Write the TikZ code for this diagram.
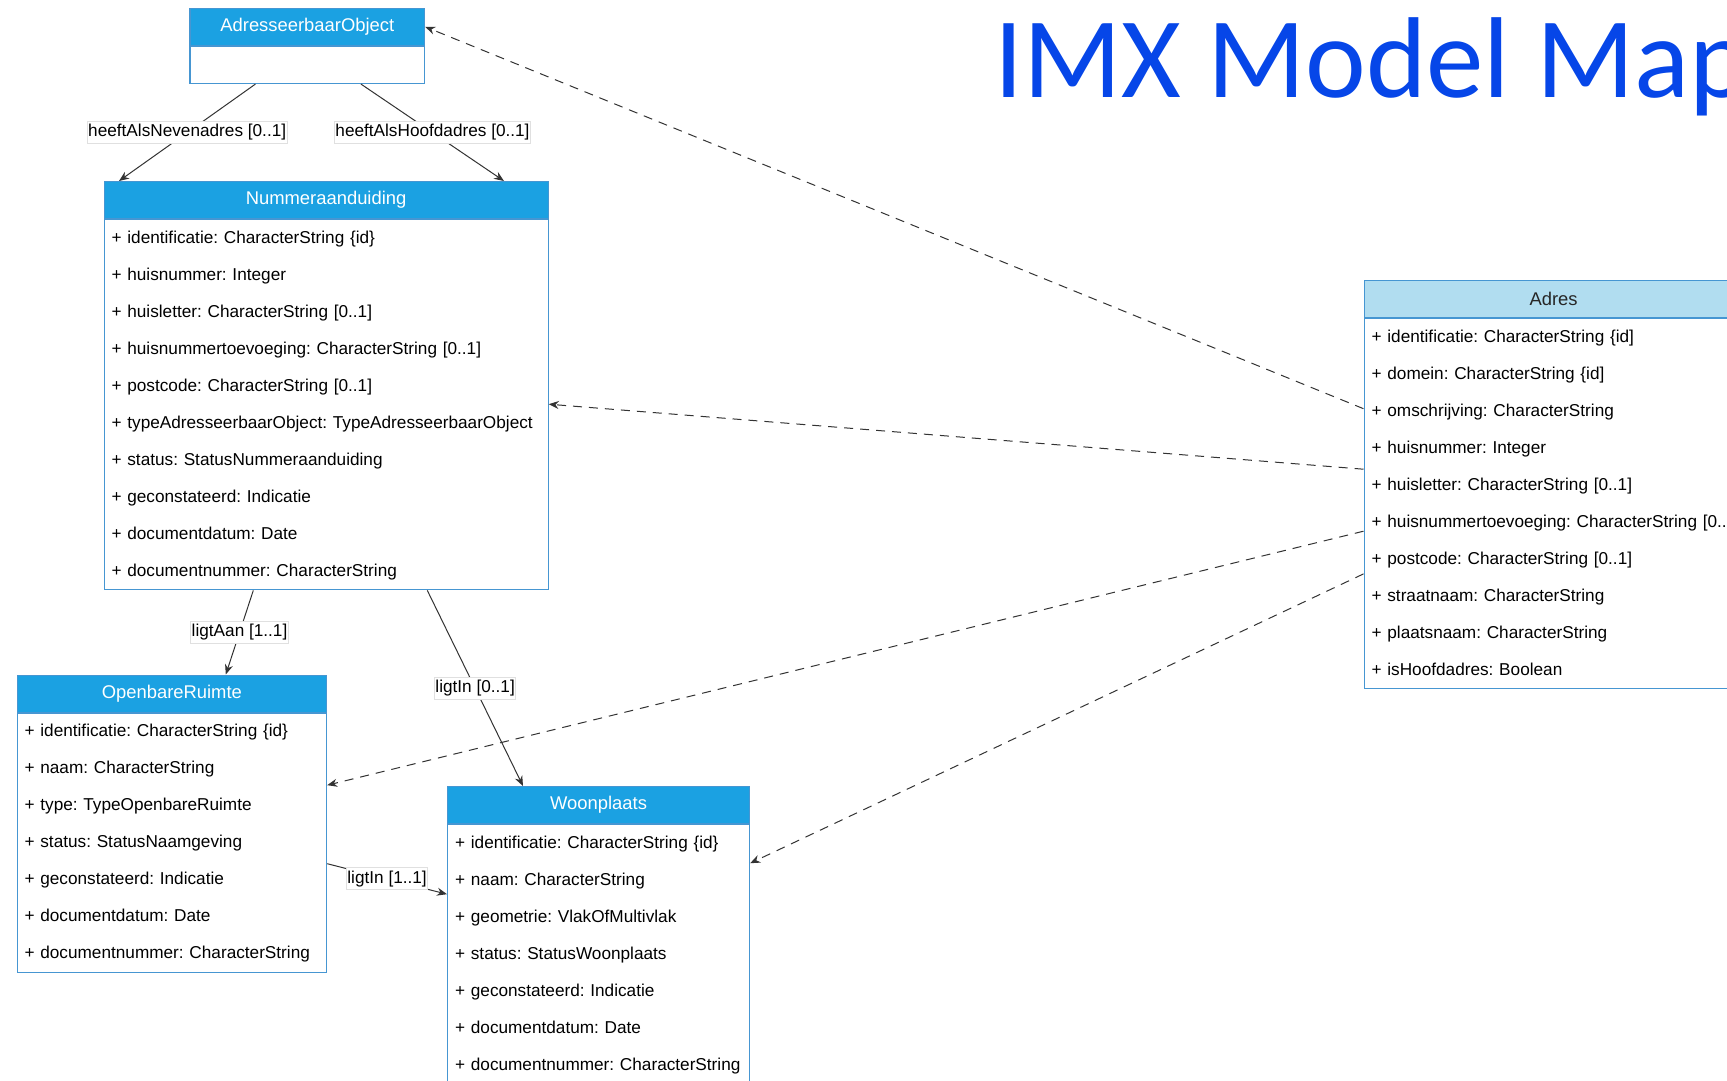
\documentclass[tikz,border=0pt]{standalone}
\usepackage{fontspec}
\setmainfont{Liberation Sans}
\newfontfamily\titlefont{Carlito}
\usetikzlibrary{arrows.meta}
\frenchspacing

\definecolor{umlblue}{RGB}{27,161,226}
\definecolor{umlpale}{RGB}{177,221,240}
\definecolor{umlline}{RGB}{70,150,210}
\definecolor{titleblue}{RGB}{6,70,232}

\newcommand{\rowfont}{\fontsize{17.2}{37}\selectfont}
\newcommand{\headfont}{\fontsize{18.4}{22}\selectfont}
\newcommand{\rowstrut}{\rule[-13.8pt]{0pt}{37pt}}

\begin{document}
\begin{tikzpicture}[x=1pt,y=-1pt,
  classhead/.style={draw=umlline,fill=umlblue,text=white,font=\headfont,
    anchor=north west,inner sep=0pt,minimum height=37pt,line width=1.2pt},
  classbody/.style={draw=umlline,fill=white,font=\rowfont,anchor=north west,
    align=left,inner xsep=7.5pt,inner ysep=0pt,line width=1.2pt,
    execute at begin node=\rowstrut,execute at end node=\rowstrut},
  assoc/.style={draw=black!80,line width=1pt,-{Stealth[length=10pt,width=8pt]}},
  dep/.style={assoc,dash pattern=on 9pt off 7pt},
  role/.style={fill=white,draw=black!12,font=\rowfont,inner xsep=1pt,inner ysep=3pt}]

\fill[white] (0,0) rectangle (1727,1081);
\useasboundingbox (0,0) rectangle (1727,1081);

\node[anchor=base west,inner sep=0pt,text=titleblue,
  font=\titlefont\fontsize{115}{115}\selectfont] (title) at (994,97) {IMX Model Map};

% classes
\node[classhead,minimum width=234.6pt] (ao) at (189.4,7.7) {AdresseerbaarObject};
\node[classbody,text width=219.6pt] (ao-attr) at (ao.south west) {};

\node[classhead,minimum width=444pt] (nra) at (103.5,181) {Nummeraanduiding};
\node[classbody,text width=429pt] (nra-attr) at (nra.south west) {+ identificatie: CharacterString \{id\}\\
  + huisnummer: Integer\\
  + huisletter: CharacterString [0..1]\\
  + huisnummertoevoeging: CharacterString [0..1]\\
  + postcode: CharacterString [0..1]\\
  + typeAdresseerbaarObject: TypeAdresseerbaarObject\\
  + status: StatusNummeraanduiding\\
  + geconstateerd: Indicatie\\
  + documentdatum: Date\\
  + documentnummer: CharacterString};

\node[classhead,minimum width=309.5pt] (or) at (16.5,674.5) {OpenbareRuimte};
\node[classbody,text width=294.5pt] (or-attr) at (or.south west) {+ identificatie: CharacterString \{id\}\\
  + naam: CharacterString\\
  + type: TypeOpenbareRuimte\\
  + status: StatusNaamgeving\\
  + geconstateerd: Indicatie\\
  + documentdatum: Date\\
  + documentnummer: CharacterString};

\node[classhead,minimum width=302pt] (wp) at (447,786) {Woonplaats};
\node[classbody,text width=287pt] (wp-attr) at (wp.south west) {+ identificatie: CharacterString \{id\}\\
  + naam: CharacterString\\
  + geometrie: VlakOfMultivlak\\
  + status: StatusWoonplaats\\
  + geconstateerd: Indicatie\\
  + documentdatum: Date\\
  + documentnummer: CharacterString};

\node[classhead,minimum width=379pt,fill=umlpale,text=black!85] (adres) at (1363.5,280) {Adres};
\node[classbody,text width=380pt] (adres-attr) at (adres.south west) {+ identificatie: CharacterString \{id]\\
  + domein: CharacterString \{id]\\
  + omschrijving: CharacterString\\
  + huisnummer: Integer\\
  + huisletter: CharacterString [0..1]\\
  + huisnummertoevoeging: CharacterString [0..1]\\
  + postcode: CharacterString [0..1]\\
  + straatnaam: CharacterString\\
  + plaatsnaam: CharacterString\\
  + isHoofdadres: Boolean};

% associations
\draw[assoc] ([xshift=66pt]ao-attr.south west) -- node[role] {heeftAlsNevenadres [0..1]} ([xshift=15.5pt]nra.north west);
\draw[assoc] ([xshift=171.6pt]ao-attr.south west) -- node[role] {heeftAlsHoofdadres [0..1]} ([xshift=400.5pt]nra.north west);
\draw[assoc] ([xshift=149.8pt]nra-attr.south west) -- node[role] {ligtAan [1..1]} ([xshift=209.3pt]or.north west);
\draw[assoc] ([xshift=323.8pt]nra-attr.south west) -- node[role] {ligtIn [0..1]} ([xshift=76pt]wp.north west);
\draw[assoc] ([yshift=-151pt]or-attr.north east) -- node[role] {ligtIn [1..1]} ([yshift=-70pt]wp-attr.north west);

% mapping from Adres
\draw[dep] ([yshift=-90.5pt]adres-attr.north west) -- (ao.east);
\draw[dep] ([yshift=-151pt]adres-attr.north west) -- ([yshift=-185pt]nra-attr.north east);
\draw[dep] ([yshift=-213pt]adres-attr.north west) -- ([yshift=-72.5pt]or-attr.north east);
\draw[dep] ([yshift=-255.7pt]adres-attr.north west) -- ([yshift=-39pt]wp-attr.north east);

\end{tikzpicture}
\end{document}
